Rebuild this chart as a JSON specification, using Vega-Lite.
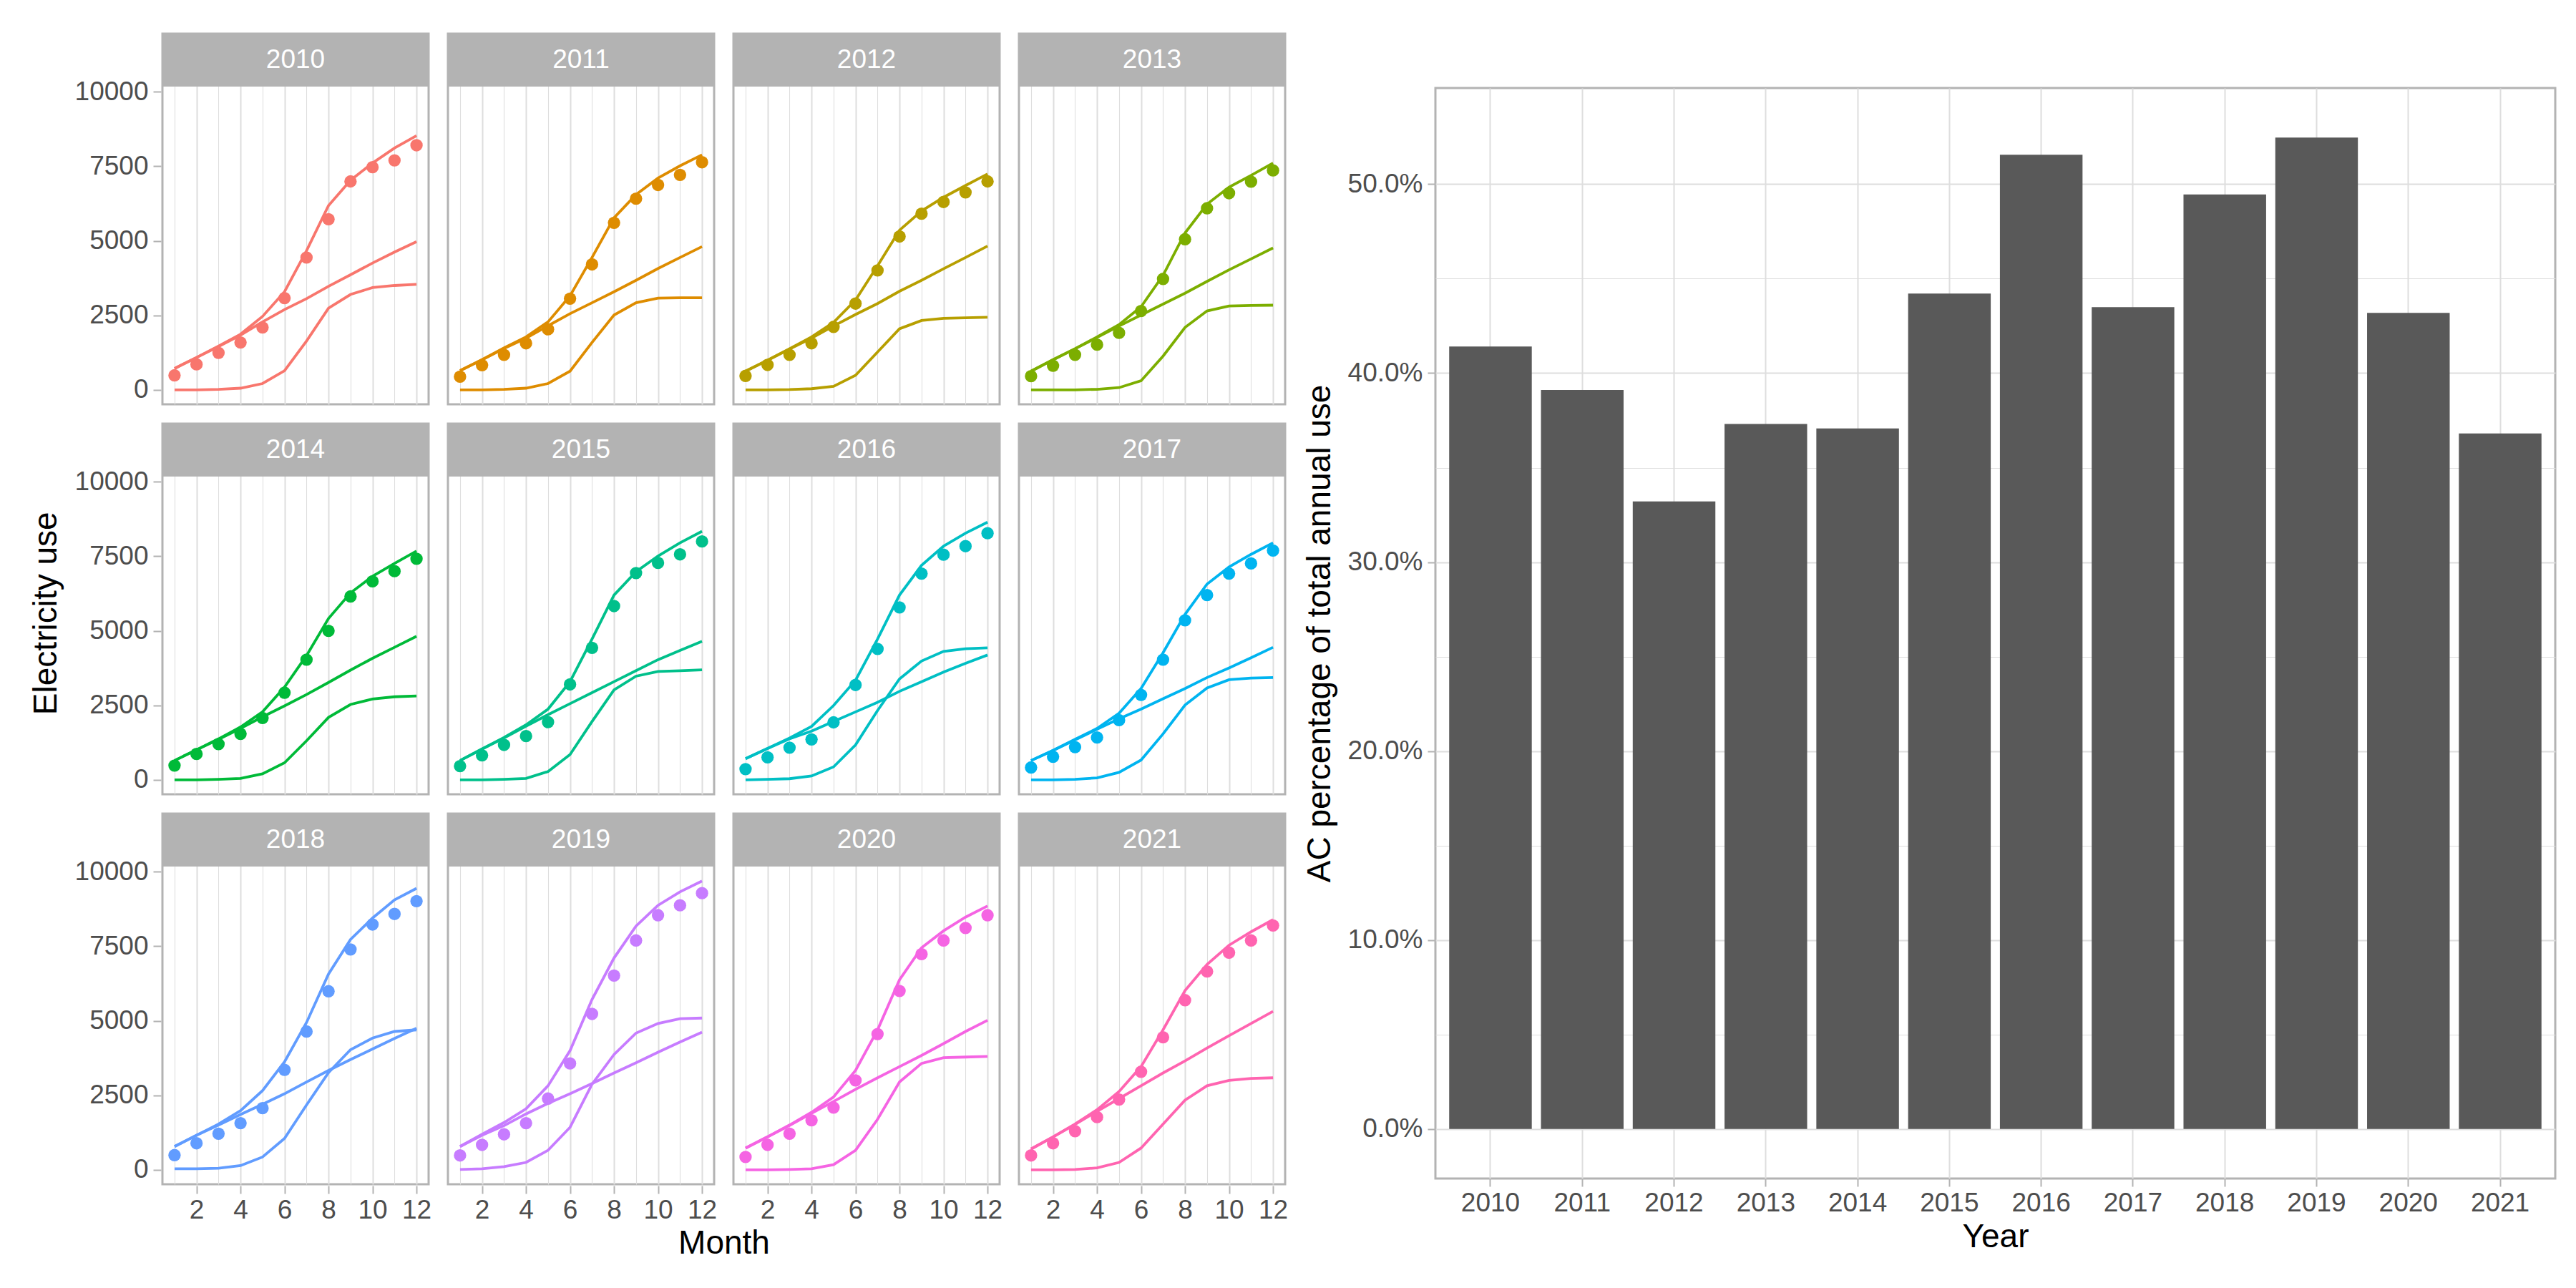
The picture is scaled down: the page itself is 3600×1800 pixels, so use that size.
{
  "$schema": "https://vega.github.io/schema/vega-lite/v6.json",
  "background": "white",
  "padding": {"left": 42, "top": 45, "right": 30, "bottom": 10},
  "config": {
    "font": "Liberation Sans",
    "view": {"stroke": "#B3B3B3", "strokeWidth": 3},
    "axis": {"domain": false, "tickColor": "#B3B3B3", "tickWidth": 2, "tickSize": 11, "labelColor": "#4D4D4D", "labelFontSize": 37, "labelFont": "Liberation Sans", "gridColor": "#DEDEDE", "titleFontSize": 46, "titleFontWeight": "normal", "titleColor": "black", "titleFont": "Liberation Sans", "labelOverlap": false, "labelFlush": false, "labelBound": false}
  },
  "datasets": {
    "monthly": [
      {"year":2010,"month":1,"obs":487,"fit":717,"base":717,"ac":0},
      {"year":2010,"month":2,"obs":855,"fit":1084,"base":1084,"ac":0},
      {"year":2010,"month":3,"obs":1241,"fit":1470,"base":1452,"ac":18},
      {"year":2010,"month":4,"obs":1590,"fit":1866,"base":1838,"ac":55},
      {"year":2010,"month":5,"obs":2095,"fit":2463,"base":2279,"ac":211},
      {"year":2010,"month":6,"obs":3079,"fit":3290,"base":2693,"ac":643},
      {"year":2010,"month":7,"obs":4439,"fit":4668,"base":3060,"ac":1636},
      {"year":2010,"month":8,"obs":5725,"fit":6185,"base":3474,"ac":2739},
      {"year":2010,"month":9,"obs":6994,"fit":7030,"base":3860,"ac":3200},
      {"year":2010,"month":10,"obs":7471,"fit":7610,"base":4255,"ac":3430},
      {"year":2010,"month":11,"obs":7701,"fit":8115,"base":4623,"ac":3501},
      {"year":2010,"month":12,"obs":8207,"fit":8528,"base":4972,"ac":3540},
      {"year":2011,"month":1,"obs":441,"fit":643,"base":643,"ac":0},
      {"year":2011,"month":2,"obs":827,"fit":1011,"base":1011,"ac":0},
      {"year":2011,"month":3,"obs":1176,"fit":1406,"base":1388,"ac":18},
      {"year":2011,"month":4,"obs":1562,"fit":1774,"base":1735,"ac":55},
      {"year":2011,"month":5,"obs":2031,"fit":2279,"base":2150,"ac":211},
      {"year":2011,"month":6,"obs":3060,"fit":3152,"base":2555,"ac":625},
      {"year":2011,"month":7,"obs":4209,"fit":4439,"base":2922,"ac":1590},
      {"year":2011,"month":8,"obs":5606,"fit":5771,"base":3290,"ac":2509},
      {"year":2011,"month":9,"obs":6415,"fit":6552,"base":3676,"ac":2922},
      {"year":2011,"month":10,"obs":6874,"fit":7104,"base":4071,"ac":3079},
      {"year":2011,"month":11,"obs":7214,"fit":7517,"base":4439,"ac":3088},
      {"year":2011,"month":12,"obs":7637,"fit":7885,"base":4806,"ac":3088},
      {"year":2012,"month":1,"obs":469,"fit":625,"base":625,"ac":0},
      {"year":2012,"month":2,"obs":836,"fit":993,"base":993,"ac":0},
      {"year":2012,"month":3,"obs":1176,"fit":1379,"base":1370,"ac":9},
      {"year":2012,"month":4,"obs":1562,"fit":1774,"base":1737,"ac":37},
      {"year":2012,"month":5,"obs":2114,"fit":2261,"base":2142,"ac":119},
      {"year":2012,"month":6,"obs":2895,"fit":3014,"base":2527,"ac":487},
      {"year":2012,"month":7,"obs":4007,"fit":4163,"base":2895,"ac":1268},
      {"year":2012,"month":8,"obs":5146,"fit":5358,"base":3309,"ac":2049},
      {"year":2012,"month":9,"obs":5909,"fit":6001,"base":3676,"ac":2325},
      {"year":2012,"month":10,"obs":6304,"fit":6461,"base":4062,"ac":2399},
      {"year":2012,"month":11,"obs":6626,"fit":6856,"base":4439,"ac":2417},
      {"year":2012,"month":12,"obs":6994,"fit":7242,"base":4825,"ac":2435},
      {"year":2013,"month":1,"obs":460,"fit":625,"base":625,"ac":0},
      {"year":2013,"month":2,"obs":809,"fit":1011,"base":1011,"ac":0},
      {"year":2013,"month":3,"obs":1176,"fit":1379,"base":1379,"ac":0},
      {"year":2013,"month":4,"obs":1516,"fit":1774,"base":1756,"ac":18},
      {"year":2013,"month":5,"obs":1912,"fit":2187,"base":2141,"ac":74},
      {"year":2013,"month":6,"obs":2647,"fit":2785,"base":2509,"ac":303},
      {"year":2013,"month":7,"obs":3722,"fit":3841,"base":2876,"ac":1130},
      {"year":2013,"month":8,"obs":5055,"fit":5266,"base":3244,"ac":2095},
      {"year":2013,"month":9,"obs":6093,"fit":6231,"base":3639,"ac":2647},
      {"year":2013,"month":10,"obs":6598,"fit":6801,"base":4025,"ac":2812},
      {"year":2013,"month":11,"obs":6984,"fit":7196,"base":4393,"ac":2830},
      {"year":2013,"month":12,"obs":7361,"fit":7609,"base":4760,"ac":2840},
      {"year":2014,"month":1,"obs":480,"fit":646,"base":646,"ac":0},
      {"year":2014,"month":2,"obs":867,"fit":1006,"base":1006,"ac":0},
      {"year":2014,"month":3,"obs":1199,"fit":1374,"base":1356,"ac":18},
      {"year":2014,"month":4,"obs":1541,"fit":1771,"base":1725,"ac":46},
      {"year":2014,"month":5,"obs":2076,"fit":2279,"base":2113,"ac":203},
      {"year":2014,"month":6,"obs":2924,"fit":3109,"base":2481,"ac":572},
      {"year":2014,"month":7,"obs":4031,"fit":4170,"base":2860,"ac":1310},
      {"year":2014,"month":8,"obs":5000,"fit":5415,"base":3266,"ac":2094},
      {"year":2014,"month":9,"obs":6153,"fit":6273,"base":3681,"ac":2528},
      {"year":2014,"month":10,"obs":6660,"fit":6827,"base":4077,"ac":2712},
      {"year":2014,"month":11,"obs":7002,"fit":7260,"base":4446,"ac":2786},
      {"year":2014,"month":12,"obs":7417,"fit":7675,"base":4815,"ac":2814},
      {"year":2015,"month":1,"obs":461,"fit":646,"base":646,"ac":0},
      {"year":2015,"month":2,"obs":821,"fit":1033,"base":1033,"ac":0},
      {"year":2015,"month":3,"obs":1172,"fit":1421,"base":1403,"ac":18},
      {"year":2015,"month":4,"obs":1467,"fit":1845,"base":1799,"ac":46},
      {"year":2015,"month":5,"obs":1937,"fit":2371,"base":2186,"ac":277},
      {"year":2015,"month":6,"obs":3201,"fit":3293,"base":2555,"ac":849},
      {"year":2015,"month":7,"obs":4428,"fit":4723,"base":2924,"ac":1956},
      {"year":2015,"month":8,"obs":5830,"fit":6199,"base":3293,"ac":3017},
      {"year":2015,"month":9,"obs":6937,"fit":6983,"base":3662,"ac":3478},
      {"year":2015,"month":10,"obs":7278,"fit":7509,"base":4031,"ac":3635},
      {"year":2015,"month":11,"obs":7565,"fit":7952,"base":4340,"ac":3662},
      {"year":2015,"month":12,"obs":7998,"fit":8339,"base":4649,"ac":3690},
      {"year":2016,"month":1,"obs":360,"fit":710,"base":710,"ac":0},
      {"year":2016,"month":2,"obs":756,"fit":1052,"base":1052,"ac":18},
      {"year":2016,"month":3,"obs":1079,"fit":1402,"base":1374,"ac":37},
      {"year":2016,"month":4,"obs":1356,"fit":1790,"base":1633,"ac":129},
      {"year":2016,"month":5,"obs":1928,"fit":2491,"base":1956,"ac":434},
      {"year":2016,"month":6,"obs":3183,"fit":3340,"base":2279,"ac":1172},
      {"year":2016,"month":7,"obs":4391,"fit":4723,"base":2601,"ac":2325},
      {"year":2016,"month":8,"obs":5784,"fit":6199,"base":2970,"ac":3386},
      {"year":2016,"month":9,"obs":6919,"fit":7196,"base":3293,"ac":3985},
      {"year":2016,"month":10,"obs":7555,"fit":7841,"base":3616,"ac":4308},
      {"year":2016,"month":11,"obs":7841,"fit":8275,"base":3911,"ac":4400},
      {"year":2016,"month":12,"obs":8275,"fit":8644,"base":4188,"ac":4428},
      {"year":2017,"month":1,"obs":415,"fit":646,"base":646,"ac":0},
      {"year":2017,"month":2,"obs":775,"fit":987,"base":987,"ac":0},
      {"year":2017,"month":3,"obs":1098,"fit":1356,"base":1338,"ac":18},
      {"year":2017,"month":4,"obs":1421,"fit":1725,"base":1697,"ac":65},
      {"year":2017,"month":5,"obs":2002,"fit":2232,"base":2048,"ac":249},
      {"year":2017,"month":6,"obs":2851,"fit":3063,"base":2371,"ac":664},
      {"year":2017,"month":7,"obs":4031,"fit":4262,"base":2721,"ac":1541},
      {"year":2017,"month":8,"obs":5351,"fit":5553,"base":3063,"ac":2509},
      {"year":2017,"month":9,"obs":6199,"fit":6568,"base":3432,"ac":3081},
      {"year":2017,"month":10,"obs":6919,"fit":7140,"base":3755,"ac":3358},
      {"year":2017,"month":11,"obs":7260,"fit":7565,"base":4096,"ac":3413},
      {"year":2017,"month":12,"obs":7694,"fit":7952,"base":4446,"ac":3432},
      {"year":2018,"month":1,"obs":493,"fit":782,"base":782,"ac":32},
      {"year":2018,"month":2,"obs":890,"fit":1158,"base":1158,"ac":32},
      {"year":2018,"month":3,"obs":1211,"fit":1533,"base":1500,"ac":54},
      {"year":2018,"month":4,"obs":1565,"fit":1983,"base":1854,"ac":139},
      {"year":2018,"month":5,"obs":2069,"fit":2658,"base":2197,"ac":429},
      {"year":2018,"month":6,"obs":3355,"fit":3623,"base":2551,"ac":1050},
      {"year":2018,"month":7,"obs":4641,"fit":4941,"base":2947,"ac":2176},
      {"year":2018,"month":8,"obs":5991,"fit":6570,"base":3333,"ac":3260},
      {"year":2018,"month":9,"obs":7395,"fit":7728,"base":3698,"ac":4030},
      {"year":2018,"month":10,"obs":8231,"fit":8446,"base":4051,"ac":4420},
      {"year":2018,"month":11,"obs":8585,"fit":9057,"base":4405,"ac":4641},
      {"year":2018,"month":12,"obs":9014,"fit":9443,"base":4748,"ac":4695},
      {"year":2019,"month":1,"obs":482,"fit":782,"base":782,"ac":11},
      {"year":2019,"month":2,"obs":836,"fit":1190,"base":1160,"ac":32},
      {"year":2019,"month":3,"obs":1190,"fit":1586,"base":1480,"ac":107},
      {"year":2019,"month":4,"obs":1565,"fit":2047,"base":1876,"ac":247},
      {"year":2019,"month":5,"obs":2390,"fit":2819,"base":2229,"ac":654},
      {"year":2019,"month":6,"obs":3569,"fit":3998,"base":2551,"ac":1425},
      {"year":2019,"month":7,"obs":5230,"fit":5713,"base":2894,"ac":2872},
      {"year":2019,"month":8,"obs":6517,"fit":7106,"base":3248,"ac":3869},
      {"year":2019,"month":9,"obs":7696,"fit":8178,"base":3590,"ac":4587},
      {"year":2019,"month":10,"obs":8542,"fit":8874,"base":3944,"ac":4909},
      {"year":2019,"month":11,"obs":8874,"fit":9325,"base":4287,"ac":5070},
      {"year":2019,"month":12,"obs":9282,"fit":9690,"base":4619,"ac":5091},
      {"year":2020,"month":1,"obs":429,"fit":729,"base":729,"ac":0},
      {"year":2020,"month":2,"obs":836,"fit":1104,"base":1104,"ac":0},
      {"year":2020,"month":3,"obs":1211,"fit":1501,"base":1490,"ac":11},
      {"year":2020,"month":4,"obs":1661,"fit":1929,"base":1897,"ac":32},
      {"year":2020,"month":5,"obs":2090,"fit":2444,"base":2290,"ac":171},
      {"year":2020,"month":6,"obs":3001,"fit":3333,"base":2700,"ac":654},
      {"year":2020,"month":7,"obs":4555,"fit":4694,"base":3087,"ac":1693},
      {"year":2020,"month":8,"obs":6002,"fit":6377,"base":3462,"ac":2947},
      {"year":2020,"month":9,"obs":7235,"fit":7449,"base":3837,"ac":3569},
      {"year":2020,"month":10,"obs":7696,"fit":8017,"base":4234,"ac":3762},
      {"year":2020,"month":11,"obs":8114,"fit":8478,"base":4641,"ac":3783},
      {"year":2020,"month":12,"obs":8542,"fit":8853,"base":5016,"ac":3805},
      {"year":2021,"month":1,"obs":482,"fit":697,"base":697,"ac":0},
      {"year":2021,"month":2,"obs":890,"fit":1104,"base":1104,"ac":0},
      {"year":2021,"month":3,"obs":1297,"fit":1533,"base":1522,"ac":11},
      {"year":2021,"month":4,"obs":1768,"fit":2015,"base":1961,"ac":64},
      {"year":2021,"month":5,"obs":2358,"fit":2626,"base":2390,"ac":247},
      {"year":2021,"month":6,"obs":3290,"fit":3462,"base":2819,"ac":729},
      {"year":2021,"month":7,"obs":4448,"fit":4694,"base":3248,"ac":1533},
      {"year":2021,"month":8,"obs":5691,"fit":6013,"base":3655,"ac":2337},
      {"year":2021,"month":9,"obs":6656,"fit":6892,"base":4084,"ac":2819},
      {"year":2021,"month":10,"obs":7288,"fit":7535,"base":4502,"ac":3001},
      {"year":2021,"month":11,"obs":7696,"fit":7985,"base":4909,"ac":3065},
      {"year":2021,"month":12,"obs":8199,"fit":8392,"base":5316,"ac":3087}
    ],
    "annual": [
      {"year":2010,"pct":0.4141},
      {"year":2011,"pct":0.3911},
      {"year":2012,"pct":0.3321},
      {"year":2013,"pct":0.3731},
      {"year":2014,"pct":0.3707},
      {"year":2015,"pct":0.4421},
      {"year":2016,"pct":0.5156},
      {"year":2017,"pct":0.4349},
      {"year":2018,"pct":0.4946},
      {"year":2019,"pct":0.5247},
      {"year":2020,"pct":0.4319},
      {"year":2021,"pct":0.3681}
    ]
  },
  "spacing": 19,
  "hconcat": [
    {
      "data": {"name": "monthly"},
      "title": {"text": "Electricity use", "orient": "left", "anchor": "middle", "fontSize": 46, "fontWeight": "normal", "color": "black", "font": "Liberation Sans", "offset": 15, "dx": 46},
      "facet": {"field": "year", "type": "ordinal", "title": "Month", "header": {"labels": false, "labelFontSize": 0, "labelPadding": 0, "labelExpr": "''", "titleOrient": "bottom", "titleFontSize": 46, "titleFontWeight": "normal", "titleColor": "black", "titleFont": "Liberation Sans", "titlePadding": 7}},
      "columns": 4,
      "spacing": {"row": 23, "column": 23},
      "spec": {
        "width": 372,
        "height": 518,
        "encoding": {
          "x": {"field": "month", "type": "quantitative", "title": null,
            "scale": {"domain": [0.45, 12.55], "nice": false, "zero": false},
            "axis": {"values": [1,2,3,4,5,6,7,8,9,10,11,12], "labelExpr": "datum.value % 2 === 0 ? datum.label : ''", "labelPadding": 5,
              "gridWidth": {"condition": {"test": "datum.value % 2 === 0", "value": 2}, "value": 1.1},
              "tickOpacity": {"condition": {"test": "datum.value % 2 === 0", "value": 1}, "value": 0}}}
        },
        "layer": [
          {
            "transform": [{"filter": "datum.month === 1"}],
            "mark": {"type": "rect", "color": "#B3B3B3"},
            "encoding": {
              "x": {"datum": 0.45, "type": "quantitative", "title": null},
              "x2": {"datum": 12.55},
              "y": {"datum": 10175, "type": "quantitative", "title": null,
                "scale": {"domain": [-485, 11952], "nice": false, "zero": false},
                "axis": {"values": [0,1250,2500,3750,5000,6250,7500,8750,10000], "format": "d", "labelExpr": "datum.value % 2500 === 0 ? datum.label : ''", "labelPadding": 7,
                  "gridWidth": {"condition": {"test": "datum.value % 2500 === 0", "value": 2}, "value": 1.1},
                  "tickOpacity": {"condition": {"test": "datum.value % 2500 === 0", "value": 1}, "value": 0}}},
              "y2": {"datum": 11952}
            }
          },
          {
            "transform": [{"filter": "datum.month === 1"}],
            "mark": {"type": "text", "color": "white", "fontSize": 37, "align": "center", "baseline": "middle", "font": "Liberation Sans"},
            "encoding": {
              "x": {"datum": 6.5, "type": "quantitative", "title": null},
              "y": {"datum": 11063, "type": "quantitative", "title": null},
              "text": {"field": "year", "type": "nominal"}
            }
          },
          {
            "mark": {"type": "line", "strokeWidth": 3.8},
            "encoding": {
              "y": {"field": "fit", "type": "quantitative", "title": null},
              "color": {"field": "year", "type": "nominal", "legend": null,
                "scale": {"domain": [2010,2011,2012,2013,2014,2015,2016,2017,2018,2019,2020,2021], "range": ["#F8766D","#DE8C00","#B79F00","#7CAE00","#00BA38","#00C08B","#00BFC4","#00B4F0","#619CFF","#C77CFF","#F564E3","#FF64B0"]}}
            }
          },
          {
            "mark": {"type": "line", "strokeWidth": 3.8},
            "encoding": {
              "y": {"field": "base", "type": "quantitative", "title": null},
              "color": {"field": "year", "type": "nominal", "legend": null}
            }
          },
          {
            "mark": {"type": "line", "strokeWidth": 3.8},
            "encoding": {
              "y": {"field": "ac", "type": "quantitative", "title": null},
              "color": {"field": "year", "type": "nominal", "legend": null}
            }
          },
          {
            "mark": {"type": "circle", "size": 300, "opacity": 1},
            "encoding": {
              "y": {"field": "obs", "type": "quantitative", "title": null},
              "color": {"field": "year", "type": "nominal", "legend": null}
            }
          }
        ]
      }
    },
    {
      "spacing": 20,
      "vconcat": [
        {
          "width": 1565,
          "height": 54,
          "view": {"stroke": null},
          "data": {"values": [{"a": 1}]},
          "mark": {"type": "text"},
          "encoding": {"text": {"value": ""}}
        },
        {
          "data": {"name": "annual"},
          "width": 1565,
          "height": 1524,
          "mark": {"type": "bar", "color": "#595959"},
          "encoding": {
            "x": {"field": "year", "type": "ordinal", "title": "Year",
              "scale": {"paddingInner": 0.1, "paddingOuter": 0.15},
              "axis": {"labelAngle": 0, "bandPosition": 0.5, "grid": true, "gridWidth": 2, "labelPadding": 5, "titlePadding": 7}},
            "y": {"field": "pct", "type": "quantitative", "title": "AC percentage of total annual use",
              "scale": {"domain": [-0.0262, 0.5509], "nice": false, "zero": false},
              "axis": {"values": [0,0.05,0.1,0.15,0.2,0.25,0.3,0.35,0.4,0.45,0.5], "format": ".1%", "labelPadding": 7, "titlePadding": 15,
                "labelExpr": "round(datum.value * 100) % 10 === 0 ? datum.label : ''",
                "gridWidth": {"condition": {"test": "round(datum.value * 100) % 10 === 0", "value": 2}, "value": 1.1},
                "tickOpacity": {"condition": {"test": "round(datum.value * 100) % 10 === 0", "value": 1}, "value": 0}}},
            "y2": {"datum": 0}
          }
        }
      ]
    }
  ]
}
